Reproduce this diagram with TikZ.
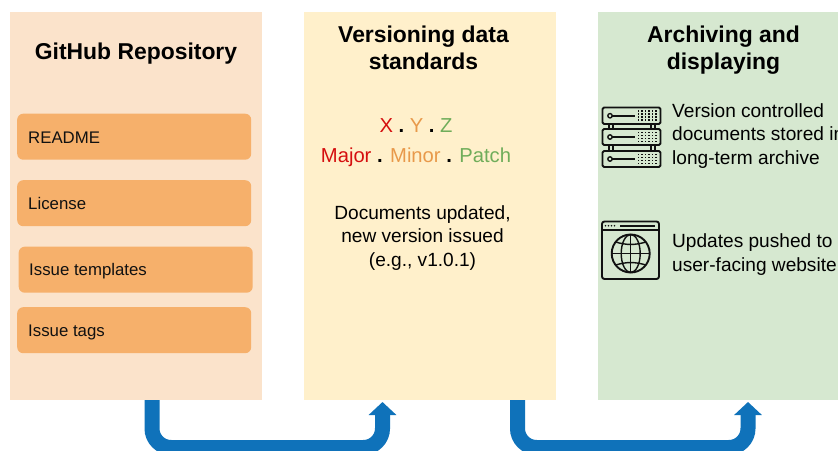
\documentclass[tikz,border=0pt]{standalone}
\usepackage{fontspec}
\setmainfont{Liberation Sans}
\usetikzlibrary{arrows.meta}
\definecolor{pa}{HTML}{FBE3CB}
\definecolor{pb}{HTML}{FFF0CB}
\definecolor{pc}{HTML}{D6E8D0}
\definecolor{boxo}{HTML}{F6B06B}
\definecolor{flow}{HTML}{0F72BA}
\definecolor{cx}{HTML}{D50F0F}
\definecolor{cy}{HTML}{E8994A}
\definecolor{cz}{HTML}{70AD5A}
\definecolor{ink}{HTML}{111111}
\tikzset{
  panel/.style={fill=#1,draw=none,inner sep=0pt,anchor=north west},
  itembox/.style={fill=boxo,draw=none,rounded corners=6pt,minimum width=234pt,minimum height=46pt,inner sep=0pt,anchor=north west},
  itemlabel/.style={font=\fontsize{16.8}{19}\selectfont,text=ink,anchor=west,inner sep=0pt},
  title/.style={font=\fontsize{22.9}{27}\selectfont\bfseries,text=black,align=center,inner sep=0pt},
  body/.style={font=\fontsize{19.1}{23.5}\selectfont,text=black,inner sep=0pt},
  ver/.style={font=\fontsize{20.2}{24}\selectfont,inner sep=0pt},
  flowline/.style={draw=flow,line width=15pt,rounded corners=19pt,-{Triangle[width=27pt,length=13pt]}},
  icon/.style={draw=ink,line width=1.9pt,line join=round},
  thinicon/.style={draw=ink,line width=1.4pt},
  dotsq/.style={fill=ink,draw=none}
}
\begin{document}
\begin{tikzpicture}[x=1pt,y=-1pt]
\useasboundingbox (0,0) rectangle (838,450);
\clip (0,0) rectangle (838,450);
\fill[white] (0,0) rectangle (838,450);
% panels
\node[panel=pa,minimum width=252pt,minimum height=388pt] (repo) at (10,12) {};
\node[panel=pb,minimum width=252pt,minimum height=388pt] (std) at (304,12) {};
\node[panel=pc,minimum width=240pt,minimum height=388pt] (arch) at (598,12) {};
% titles
\node[title] (t1) at (136,54) {GitHub Repository};
\node[title,anchor=base] (t2) at (423.5,69) {Versioning data\\standards};
\node[title,anchor=base] (t3) at (723.5,69) {Archiving and\\displaying};
% item boxes
\node[itembox] (b1) at (17,113.5) {};
\node[itembox] (b2) at (17,180) {};
\node[itembox] (b3) at (18.5,246.5) {};
\node[itembox] (b4) at (17,307) {};
\node[itemlabel] (l1) at (28,137.5) {README};
\node[itemlabel] (l2) at (28,203.5) {License};
\node[itemlabel] (l3) at (29,271) {Issue templates};
\node[itemlabel] (l4) at (28,332) {Issue tags};
% version
\node[ver,anchor=base] (v1) at (416,132) {\textcolor{cx}{X} \textbf{.} \textcolor{cy}{Y} \textbf{.} \textcolor{cz}{Z}};
\node[ver,anchor=base] (v2) at (416,162) {\textcolor{cx}{Major} \textbf{.} \textcolor{cy}{Minor} \textbf{.} \textcolor{cz}{Patch}};
\node[body,align=center] (d1) at (422.5,238) {Documents updated,\\new version issued\\(e.g., v1.0.1)};
% archive text
\node[body,align=left,anchor=north west] (a1) at (672,103) {Version controlled\\documents stored in\\long-term archive};
\node[body,align=left,anchor=north west] (a2) at (672,233.5) {Updates pushed to\\user-facing website};
% server icon
\foreach \ya/\yb in {107.5/124,129/145,151/167}{
  \draw[icon,rounded corners=1.5pt] (602.5,\ya) rectangle (660.5,\yb);
  \pgfmathsetmacro{\ym}{(\ya+\yb)/2}
  \draw[thinicon] (610,\ym) circle (2.2pt);
  \draw[icon] (612,\ym) -- (635,\ym);
  \foreach \dx in {638.5,642,645.5,649,652.5,656}{
    \foreach \dy in {-4.5,-1.5,1.5,4.5}{
      \fill[dotsq] (\dx-0.8,\ym+\dy-0.8) rectangle (\dx+0.8,\ym+\dy+0.8);
    }
  }
}
\foreach \lx in {609,651}{
  \draw[thinicon] (\lx,124) -- (\lx,129) (\lx+4,124) -- (\lx+4,129);
  \draw[thinicon] (\lx,145) -- (\lx,151) (\lx+4,145) -- (\lx+4,151);
}
% browser icon
\draw[icon,rounded corners=2.5pt] (602,221.5) rectangle (659,279);
\draw[thinicon] (602,230) -- (659,230);
\draw[thinicon] (620,225.8) -- (655,225.8);
\foreach \dx in {605.5,608.5,611.5,614.5}{\fill[dotsq] (\dx,225.8) circle (0.9pt);}
\draw[icon] (630.7,253.5) circle (19pt);
\draw[thinicon] (630.7,253.5) ellipse (9.5pt and 19pt);
\draw[thinicon] (630.7,234.5) -- (630.7,272.5) (611.7,253.5) -- (649.7,253.5);
\draw[thinicon] (615.5,242) to[bend right=16] (646,242);
\draw[thinicon] (615.5,265) to[bend left=16] (646,265);
% connectors
\coordinate (s1) at (152,400);
\coordinate (e1) at (382.5,402);
\coordinate (s2) at (517.5,400);
\coordinate (e2) at (748,402);
\draw[flowline] (s1) |- (267,447.5) -| (e1);
\draw[flowline] (s2) |- (633,447.5) -| (e2);
\end{tikzpicture}
\end{document}
